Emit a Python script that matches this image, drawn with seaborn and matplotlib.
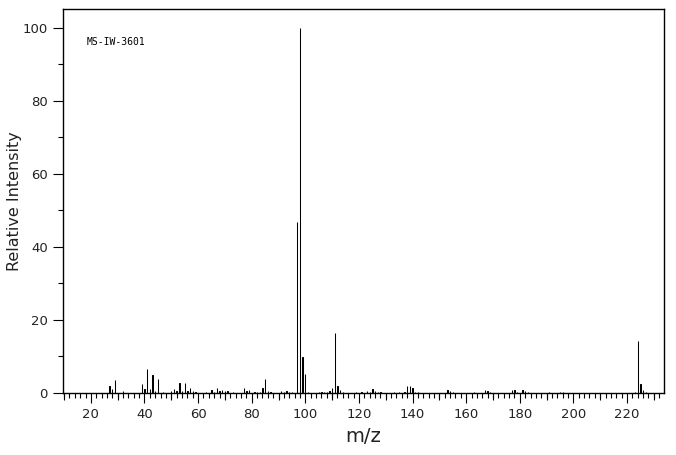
import matplotlib
matplotlib.use("Agg")
import matplotlib.pyplot as plt
from matplotlib.ticker import MultipleLocator, FixedLocator
import seaborn as sns
import pandas as pd

mz = [27, 28, 29, 32, 39, 40, 41, 42, 43, 44, 45, 47, 50, 51, 52, 53, 54, 55, 56, 57,
      58, 59, 63, 65, 66, 67, 68, 69, 70, 71, 73, 77, 78, 79, 81, 82, 83, 84, 85, 86,
      87, 91, 92, 93, 94, 95, 97, 98, 99, 100, 101, 105, 106, 107, 108, 109, 110, 111,
      112, 113, 114, 119, 121, 123, 124, 125, 126, 127, 128, 133, 135, 137, 138, 139,
      140, 141, 142, 153, 154, 155, 163, 167, 168, 169, 177, 178, 179, 181, 182, 183,
      191, 195, 196, 223, 224, 225, 226, 227]
intensity = [2.0, 1.0, 3.6, 0.5, 2.5, 1.0, 6.6, 1.0, 4.8, 0.5, 3.9, 0.4, 0.6, 1.0, 0.6,
             2.8, 0.6, 2.7, 0.6, 1.5, 0.5, 0.3, 0.3, 0.7, 0.4, 1.4, 0.5, 0.9, 0.5, 0.6,
             0.3, 1.4, 0.6, 0.9, 0.3, 0.3, 0.4, 1.4, 3.8, 0.5, 0.3, 0.6, 0.3, 0.5, 0.3,
             0.3, 46.8, 100.0, 9.8, 5.1, 0.3, 0.2, 0.3, 0.2, 0.3, 0.5, 1.4, 16.4, 1.9,
             0.8, 0.3, 0.2, 0.3, 0.5, 0.3, 1.1, 0.5, 0.3, 0.2, 0.2, 0.2, 0.3, 1.8, 1.9,
             1.5, 0.3, 0.2, 0.9, 0.5, 0.3, 0.4, 0.7, 0.6, 0.3, 0.7, 0.7, 0.3, 0.9, 0.5,
             0.3, 0.3, 0.3, 0.3, 0.2, 14.3, 2.5, 0.9, 0.3]
x_tick_labels = [20, 40, 60, 80, 100, 120, 140, 160, 180, 200, 220]
y_tick_labels = [0, 20, 40, 60, 80, 100]
sample_id = "MS-IW-3601"

df = pd.DataFrame({"mz": mz, "intensity": intensity})

sns.set_theme(style="ticks")
plt.rcParams["font.family"] = ["DejaVu Sans"]

fig = plt.figure(figsize=(6.76, 4.55), dpi=100)
ax = fig.add_axes([63 / 676, 62 / 455, 601 / 676, 383.7 / 455])

sns.barplot(data=df, x="mz", y="intensity", native_scale=True, color="black",
            width=0.12, edgecolor="black", linewidth=0.75, errorbar=None, ax=ax)

ax.set_xlim(9.6, 233.8)
ax.set_ylim(0, 105)

for s in ax.spines.values():
    s.set_linewidth(1.0)
    s.set_color("black")

ax.xaxis.set_major_locator(FixedLocator(x_tick_labels))
ax.set_xticklabels([str(v) for v in x_tick_labels])
ax.xaxis.set_minor_locator(MultipleLocator(2))
ax.yaxis.set_major_locator(FixedLocator(y_tick_labels))
ax.set_yticklabels([str(v) for v in y_tick_labels])
ax.yaxis.set_minor_locator(MultipleLocator(10))

ax.tick_params(axis="both", which="major", length=7.5, width=0.8, color="black",
               labelsize=9.5, labelcolor="#222222", pad=3.5, direction="out")
ax.tick_params(axis="both", which="minor", length=3.6, width=0.8, color="black",
               direction="out")

# medium ticks every 10 on x
sec = ax.secondary_xaxis("bottom")
sec.xaxis.set_major_locator(FixedLocator([v for v in range(10, 240, 10) if v % 20 != 0]))
sec.tick_params(axis="x", which="major", length=5.2, width=0.8, color="black",
                labelbottom=False)
sec.xaxis.set_minor_locator(FixedLocator([]))
sec.spines["bottom"].set_visible(False)

ax.set_xlabel("m/z", fontsize=14, color="#222222")
ax.xaxis.set_label_coords(0.5, -0.088)
ax.set_ylabel("Relative Intensity", fontsize=11.5, color="#222222")
ax.yaxis.set_label_coords(-0.068, 0.5)

ax.text(0.04, 0.915, sample_id, transform=ax.transAxes, fontsize=7,
        family="DejaVu Sans Mono", va="center", ha="left", color="black")

fig.savefig("out.png", dpi=100, facecolor="white")
